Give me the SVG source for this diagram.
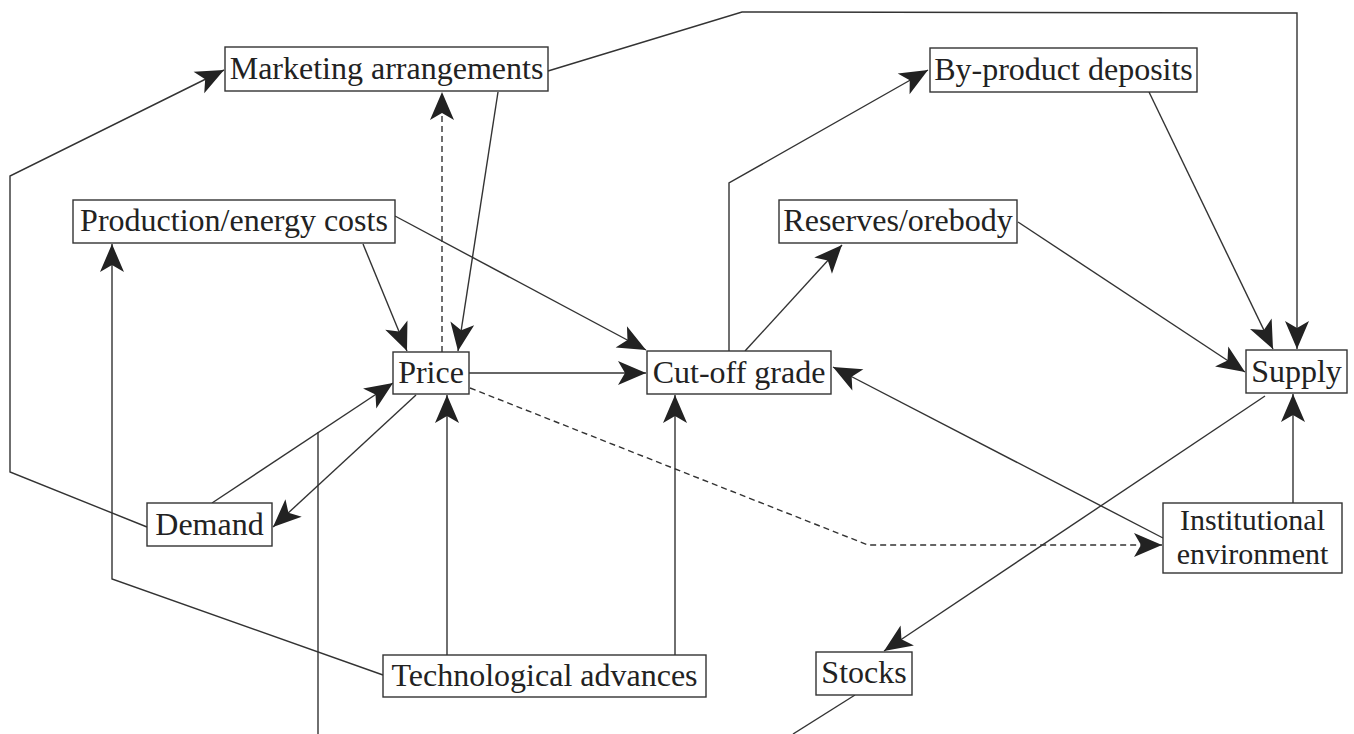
<svg xmlns="http://www.w3.org/2000/svg" width="1354" height="734" viewBox="0 0 1354 734">
<style>
.box{fill:#fff;stroke:#333;stroke-width:1.4}
.lbl{font-family:"Liberation Serif","Times New Roman",serif;font-size:32px;fill:#222;text-anchor:middle}
.sm{font-size:30px}
.c{fill:none;stroke:#333;stroke-width:1.4}
.a{marker-end:url(#ah)}
.d{stroke-dasharray:6 4}
</style>
<defs>
<marker id="ah" viewBox="-29 -13 30 26" refX="0" refY="0" markerWidth="30" markerHeight="26" markerUnits="userSpaceOnUse" orient="auto">
<path d="M0,0 L-28,-12 L-21,0 L-28,12 Z" fill="#222"/>
</marker>
</defs>
<rect width="1354" height="734" fill="#fff"/>
<g id="connectors">
<polyline class="c a" points="147,527 10,472 10,176 224,70"/>
<polyline class="c a" points="548,71 742,12 1297,13 1297,349"/>
<line class="c a" x1="498" y1="92" x2="458" y2="351"/>
<line class="c a d" x1="442" y1="352" x2="442" y2="92"/>
<line class="c a" x1="363" y1="244" x2="407" y2="351"/>
<line class="c a" x1="395" y1="216" x2="646" y2="350"/>
<polyline class="c a" points="383,675 112,579 112,244"/>
<line class="c a" x1="212" y1="503" x2="393" y2="383"/>
<line class="c a" x1="416" y1="395" x2="273" y2="527"/>
<line class="c" x1="318" y1="432" x2="318" y2="734"/>
<line class="c a" x1="447" y1="655" x2="447" y2="395"/>
<line class="c a" x1="675" y1="655" x2="675" y2="395"/>
<line class="c a" x1="469" y1="373" x2="646" y2="373"/>
<polyline class="c a d" points="470,388 868,545 1162,545"/>
<line class="c a" x1="745" y1="351" x2="842" y2="245"/>
<polyline class="c a" points="729,351 729,183 928,70"/>
<line class="c a" x1="1018" y1="222" x2="1245" y2="372"/>
<line class="c a" x1="1149" y1="92" x2="1273" y2="349"/>
<line class="c a" x1="1293" y1="503" x2="1293" y2="394"/>
<line class="c a" x1="1163" y1="538" x2="833" y2="367"/>
<line class="c a" x1="1265" y1="396" x2="884" y2="651"/>
<line class="c" x1="855" y1="695" x2="793" y2="734"/>
</g>
<g id="marketing"><rect class="box" x="225" y="47" width="323" height="44"/><text class="lbl" x="386.5" y="79">Marketing arrangements</text></g>
<g id="byproduct"><rect class="box" x="930" y="48" width="267" height="44"/><text class="lbl" x="1063.5" y="80">By-product deposits</text></g>
<g id="production"><rect class="box" x="73" y="200" width="322" height="43"/><text class="lbl" x="234" y="231">Production/energy costs</text></g>
<g id="reserves"><rect class="box" x="779" y="200" width="238" height="43"/><text class="lbl" x="898" y="231">Reserves/orebody</text></g>
<g id="price"><rect class="box" x="393" y="352" width="76" height="42"/><text class="lbl" x="431" y="383">Price</text></g>
<g id="cutoff"><rect class="box" x="647" y="351" width="184" height="43"/><text class="lbl" x="739" y="383">Cut-off grade</text></g>
<g id="supply"><rect class="box" x="1246" y="350" width="101" height="43"/><text class="lbl" x="1296.5" y="382">Supply</text></g>
<g id="demand"><rect class="box" x="147" y="503" width="125" height="43"/><text class="lbl" x="209.5" y="535">Demand</text></g>
<g id="institutional"><rect class="box" x="1163" y="503" width="179" height="70"/><text class="lbl sm" x="1252.5" y="530">Institutional</text><text class="lbl sm" x="1252.5" y="564">environment</text></g>
<g id="technological"><rect class="box" x="383" y="655" width="323" height="42"/><text class="lbl" x="544.5" y="686">Technological advances</text></g>
<g id="stocks"><rect class="box" x="816" y="652" width="96" height="43"/><text class="lbl" x="864" y="683">Stocks</text></g>
</svg>
